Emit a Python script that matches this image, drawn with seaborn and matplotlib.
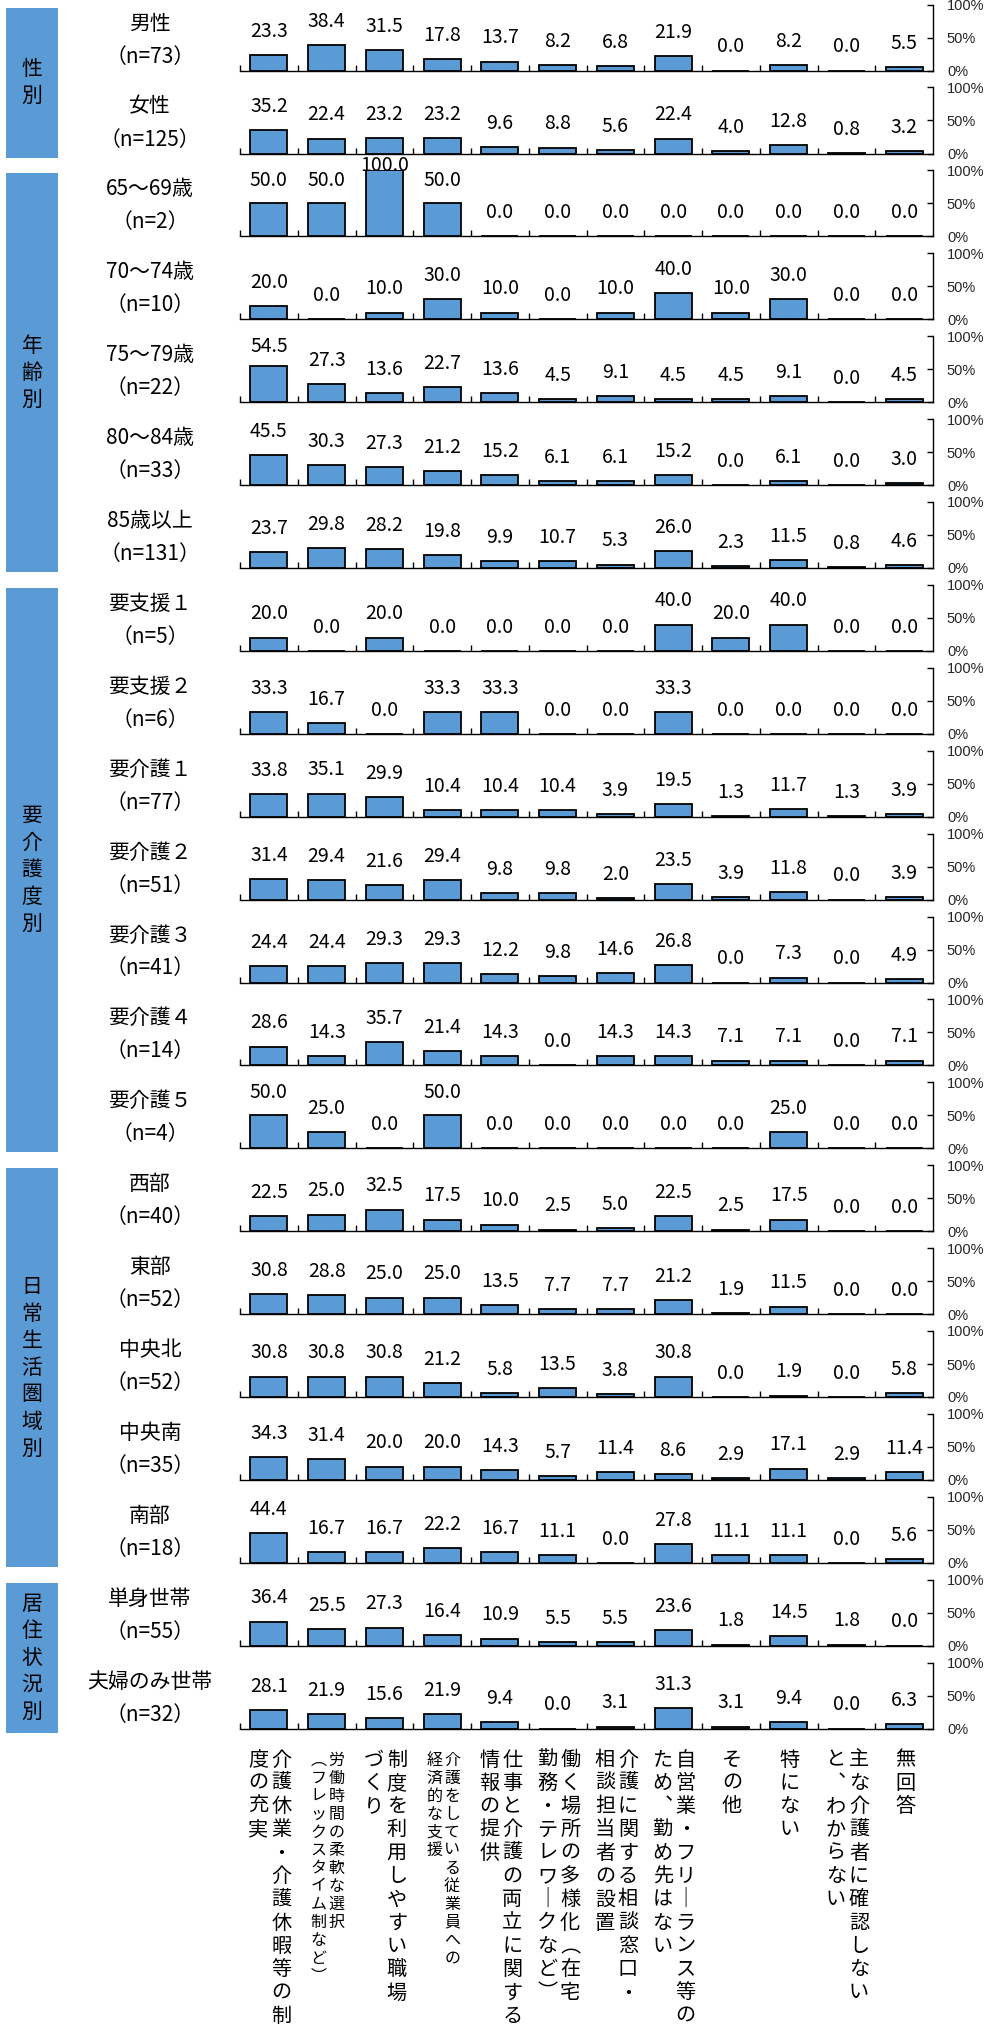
import numpy as np
import pandas as pd
import matplotlib
matplotlib.use('Agg')
import matplotlib.pyplot as plt
import seaborn as sns
from matplotlib.patches import Rectangle

sns.set_theme(style='white')
plt.rcParams['font.family'] = ['Noto Sans CJK JP', 'DejaVu Sans']

BLUE = '#5B9BD5'

# 行ラベル
row_names = ['男性', '女性', '65〜69歳', '70〜74歳', '75〜79歳', '80〜84歳', '85歳以上',
             '要支援１', '要支援２', '要介護１', '要介護２', '要介護３', '要介護４', '要介護５',
             '西部', '東部', '中央北', '中央南', '南部', '単身世帯', '夫婦のみ世帯']
row_n = [73, 125, 2, 10, 22, 33, 131, 5, 6, 77, 51, 41, 14, 4, 40, 52, 52, 35, 18, 55, 32]

group_names = ['性別', '年齢別', '要介護度別', '日常生活圏域別', '居住状況別']
group_sizes = [2, 5, 7, 5, 2]

# 値（%）
male = [23.3, 38.4, 31.5, 17.8, 13.7, 8.2, 6.8, 21.9, 0.0, 8.2, 0.0, 5.5]
female = [35.2, 22.4, 23.2, 23.2, 9.6, 8.8, 5.6, 22.4, 4.0, 12.8, 0.8, 3.2]
age_65_69 = [50.0, 50.0, 100.0, 50.0, 0.0, 0.0, 0.0, 0.0, 0.0, 0.0, 0.0, 0.0]
age_70_74 = [20.0, 0.0, 10.0, 30.0, 10.0, 0.0, 10.0, 40.0, 10.0, 30.0, 0.0, 0.0]
age_75_79 = [54.5, 27.3, 13.6, 22.7, 13.6, 4.5, 9.1, 4.5, 4.5, 9.1, 0.0, 4.5]
age_80_84 = [45.5, 30.3, 27.3, 21.2, 15.2, 6.1, 6.1, 15.2, 0.0, 6.1, 0.0, 3.0]
age_85 = [23.7, 29.8, 28.2, 19.8, 9.9, 10.7, 5.3, 26.0, 2.3, 11.5, 0.8, 4.6]
shien1 = [20.0, 0.0, 20.0, 0.0, 0.0, 0.0, 0.0, 40.0, 20.0, 40.0, 0.0, 0.0]
shien2 = [33.3, 16.7, 0.0, 33.3, 33.3, 0.0, 0.0, 33.3, 0.0, 0.0, 0.0, 0.0]
kaigo1 = [33.8, 35.1, 29.9, 10.4, 10.4, 10.4, 3.9, 19.5, 1.3, 11.7, 1.3, 3.9]
kaigo2 = [31.4, 29.4, 21.6, 29.4, 9.8, 9.8, 2.0, 23.5, 3.9, 11.8, 0.0, 3.9]
kaigo3 = [24.4, 24.4, 29.3, 29.3, 12.2, 9.8, 14.6, 26.8, 0.0, 7.3, 0.0, 4.9]
kaigo4 = [28.6, 14.3, 35.7, 21.4, 14.3, 0.0, 14.3, 14.3, 7.1, 7.1, 0.0, 7.1]
kaigo5 = [50.0, 25.0, 0.0, 50.0, 0.0, 0.0, 0.0, 0.0, 0.0, 25.0, 0.0, 0.0]
seibu = [22.5, 25.0, 32.5, 17.5, 10.0, 2.5, 5.0, 22.5, 2.5, 17.5, 0.0, 0.0]
toubu = [30.8, 28.8, 25.0, 25.0, 13.5, 7.7, 7.7, 21.2, 1.9, 11.5, 0.0, 0.0]
chuo_kita = [30.8, 30.8, 30.8, 21.2, 5.8, 13.5, 3.8, 30.8, 0.0, 1.9, 0.0, 5.8]
chuo_minami = [34.3, 31.4, 20.0, 20.0, 14.3, 5.7, 11.4, 8.6, 2.9, 17.1, 2.9, 11.4]
nanbu = [44.4, 16.7, 16.7, 22.2, 16.7, 11.1, 0.0, 27.8, 11.1, 11.1, 0.0, 5.6]
tanshin = [36.4, 25.5, 27.3, 16.4, 10.9, 5.5, 5.5, 23.6, 1.8, 14.5, 1.8, 0.0]
fuufu = [28.1, 21.9, 15.6, 21.9, 9.4, 0.0, 3.1, 31.3, 3.1, 9.4, 0.0, 6.3]

rows = [male, female, age_65_69, age_70_74, age_75_79, age_80_84, age_85,
        shien1, shien2, kaigo1, kaigo2, kaigo3, kaigo4, kaigo5,
        seibu, toubu, chuo_kita, chuo_minami, nanbu, tanshin, fuufu]

# 選択肢（縦書き、右の列から）
cat_labels = [
    ['介護休業・介護休暇等の制', '度の充実'],
    ['労働時間の柔軟な選択', '（フレックスタイム制など）'],
    ['制度を利用しやすい職場', 'づくり'],
    ['介護をしている従業員への', '経済的な支援'],
    ['仕事と介護の両立に関する', '情報の提供'],
    ['働く場所の多様化（在宅', '勤務・テレワークなど）'],
    ['介護に関する相談窓口・', '相談担当者の設置'],
    ['自営業・フリーランス等の', 'ため、勤め先はない'],
    ['その他'],
    ['特にない'],
    ['主な介護者に確認しない', 'と、わからない'],
    ['無回答'],
]
cat_small = [False, True, False, True, False, False, False, False, False, False, False, False]
cat_ids = [f'c{i}' for i in range(len(cat_labels))]

W, H = 984, 2027
fig = plt.figure(figsize=(W / 100, H / 100), dpi=100)


def fx(px):
    return px / W


def fy(py):
    return 1 - py / H


BASE0, STEP = 70.6, 82.9
AX_L, AX_R, AX_H = 240, 933, 66
LBL_X = 150

for r, vals in enumerate(rows):
    base = BASE0 + STEP * r
    ax = fig.add_axes([fx(AX_L), fy(base), fx(AX_R - AX_L), AX_H / H])
    df = pd.DataFrame({'cat': cat_ids, 'val': vals})
    sns.barplot(data=df, x='cat', y='val', color=BLUE, saturation=1,
                edgecolor='black', linewidth=1.3, width=0.64, ax=ax)
    ax.set_xlim(-0.5, len(cat_ids) - 0.5)
    ax.set_ylim(0, 100)
    ax.set_xlabel('')
    ax.set_ylabel('')
    ax.set_facecolor('none')
    for s in ['left', 'top']:
        ax.spines[s].set_visible(False)
    for s in ['bottom', 'right']:
        ax.spines[s].set_color('black')
        ax.spines[s].set_linewidth(1.0)
    ax.set_xticks(np.arange(-0.5, len(cat_ids) - 1, 1))
    ax.tick_params(axis='x', direction='in', length=4, width=1, color='black',
                   bottom=True, labelbottom=False)
    ax.yaxis.tick_right()
    ax.set_yticks([0, 50, 100])
    ax.set_yticklabels(['0%', '50%', '100%'], fontsize=10.5, family='Liberation Sans')
    ax.tick_params(axis='y', direction='in', length=4, width=1, color='black',
                   right=True, left=False, pad=10)
    for i, v in enumerate(vals):
        y = max(min(v + 36, 84), v + 8)
        ax.text(i, y, f'{v:.1f}', ha='center', va='center', fontsize=14,
                color='black', clip_on=False)

    fig.text(fx(LBL_X), fy(base - 47), row_names[r], ha='center', va='center',
             fontsize=15, color='black')
    fig.text(fx(LBL_X), fy(base - 14), f'（n={row_n[r]}）', ha='center', va='center',
             fontsize=15, color='black')

# グループの帯
start = 0
for g, size in enumerate(group_sizes):
    top = BASE0 + STEP * start - 63
    bottom = BASE0 + STEP * (start + size - 1) + 4
    fig.add_artist(Rectangle((fx(6), fy(bottom)), fx(52), (bottom - top) / H,
                             transform=fig.transFigure, facecolor=BLUE, edgecolor='none'))
    chars = list(group_names[g])
    mid = (top + bottom) / 2
    pitch = 27
    for j, ch in enumerate(chars):
        yy = mid + (j - (len(chars) - 1) / 2) * pitch
        fig.text(fx(32), fy(yy), ch, ha='center', va='center', fontsize=15, color='black')
    start += size

# 縦書きの選択肢
vert = {'ー': '｜', '（': '︵', '）': '︶', '、': '︑'}
cat_w = (AX_R - AX_L) / len(cat_labels)
for k, cols in enumerate(cat_labels):
    cx = AX_L + cat_w * (k + 0.5) + 1
    small = cat_small[k]
    off = 9 if small else 11.5
    pitch = 18 if small else 23.3
    fs = 11.5 if small else 14.5
    if len(cols) == 1:
        xs = [cx]
    else:
        xs = [cx + off, cx - off]
    for col, x in zip(cols, xs):
        for j, ch in enumerate(col):
            fig.text(fx(x), fy(1760 + j * pitch), vert.get(ch, ch), ha='center',
                     va='center', fontsize=fs, color='black')

fig.savefig('out.png', dpi=100)
